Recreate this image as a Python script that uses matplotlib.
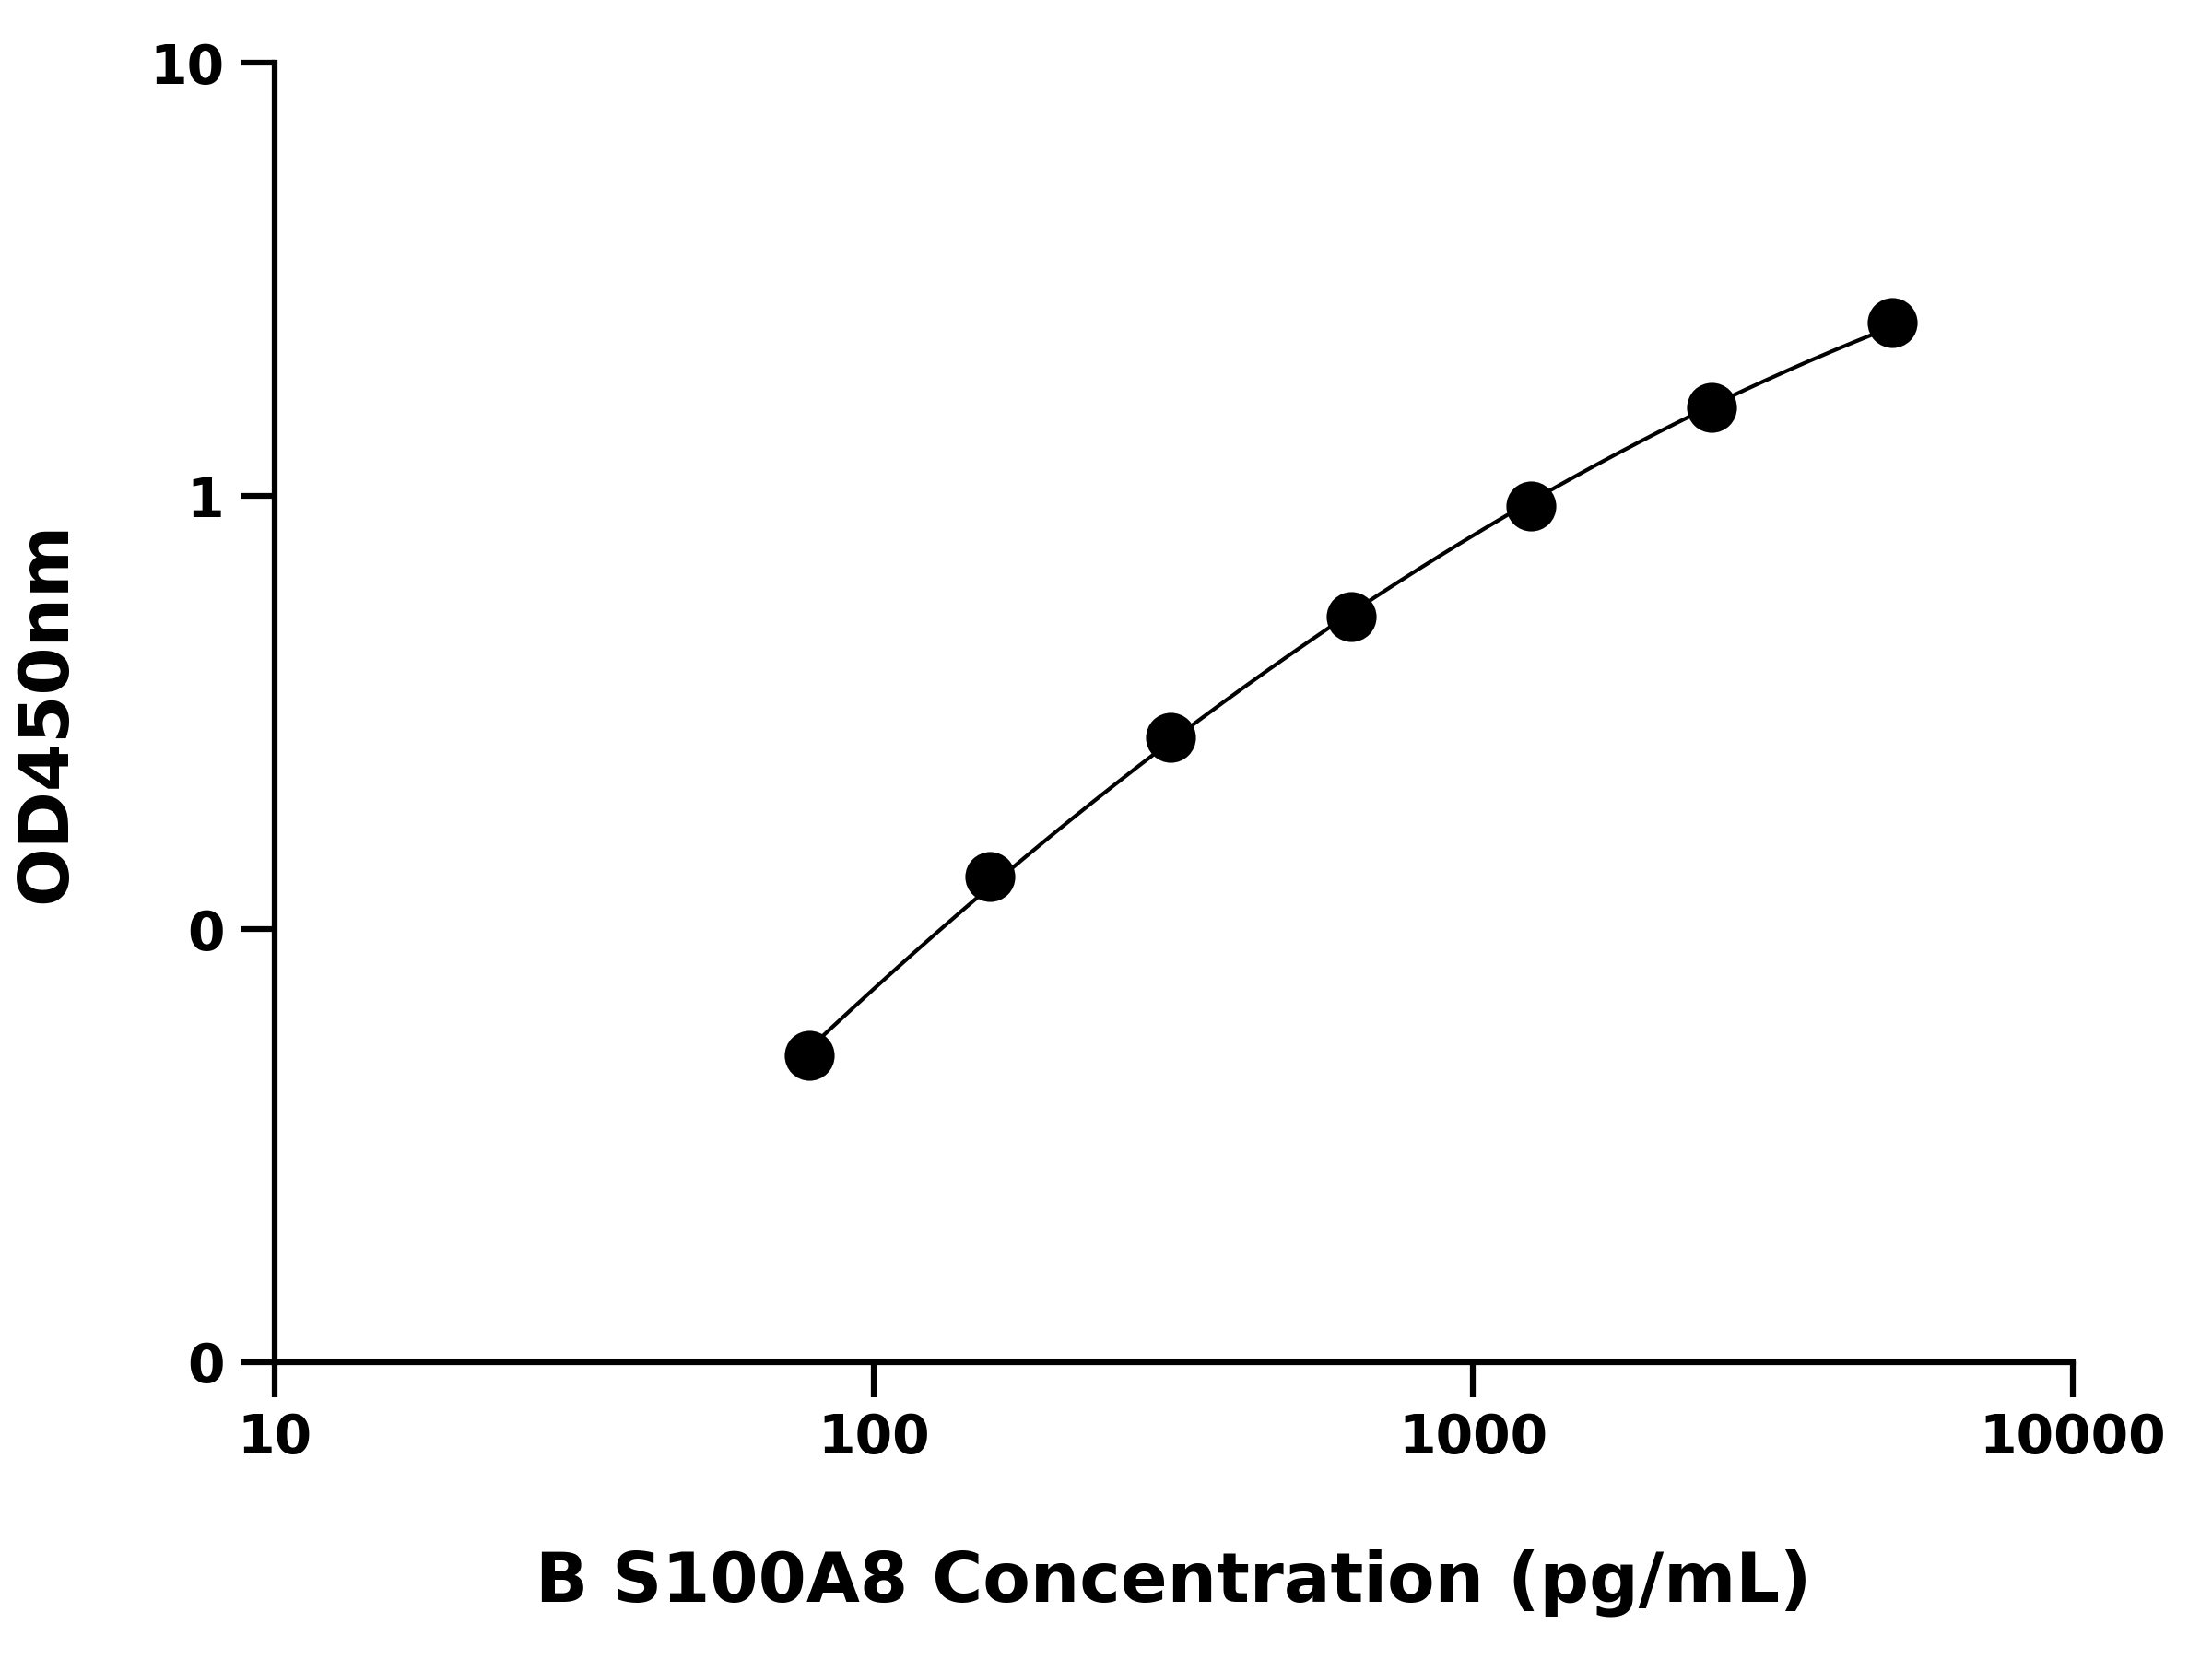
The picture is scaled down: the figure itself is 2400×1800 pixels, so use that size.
import numpy as np
import matplotlib
matplotlib.use("Agg")
import matplotlib.pyplot as plt
from matplotlib.ticker import FixedLocator, FixedFormatter, NullLocator

conc = [78.125, 156.25, 312.5, 625, 1250, 2500, 5000]
od = [0.051, 0.132, 0.277, 0.526, 0.948, 1.60, 2.51]
xticks = [10, 100, 1000, 10000]
xlabels = ["10", "100", "1000", "10000"]
yticks = [0.01, 0.1, 1, 10]
ylabels = ["0", "0", "1", "10"]

plt.rcParams["font.family"] = "DejaVu Sans"
plt.rcParams["font.weight"] = "bold"
fig = plt.figure(figsize=(8, 6), dpi=300)
ax = fig.add_axes([0.124, 0.179, 0.813, 0.783])

lx = np.log10(conc); ly = np.log10(od)
coef = np.polyfit(lx, ly, 2)
xs = np.linspace(lx[0], lx[-1], 200)
ax.plot(10**xs, 10**np.polyval(coef, xs), color="black", lw=1.0, zorder=2)
ax.plot(conc, od, "o", color="black", ms=12, zorder=3)

ax.set_xscale("log"); ax.set_yscale("log")
ax.set_xlim(10, 10000); ax.set_ylim(0.01, 10)
ax.xaxis.set_major_locator(FixedLocator(xticks))
ax.xaxis.set_major_formatter(FixedFormatter(xlabels))
ax.yaxis.set_major_locator(FixedLocator(yticks))
ax.yaxis.set_major_formatter(FixedFormatter(ylabels))
ax.xaxis.set_minor_locator(NullLocator()); ax.yaxis.set_minor_locator(NullLocator())
for s in ["top", "right"]:
    ax.spines[s].set_visible(False)
for s in ["left", "bottom"]:
    ax.spines[s].set_linewidth(1.5)
ax.tick_params(length=9, width=1.5, labelsize=14, pad=4)
for t in ax.get_xticklabels() + ax.get_yticklabels():
    t.set_fontweight("bold")
ax.set_xlabel("B S100A8 Concentration (pg/mL)", fontsize=18, fontweight="bold", labelpad=22)
ax.set_ylabel("OD450nm", fontsize=18, fontweight="bold", labelpad=18)
fig.savefig("out.png", dpi=300)
